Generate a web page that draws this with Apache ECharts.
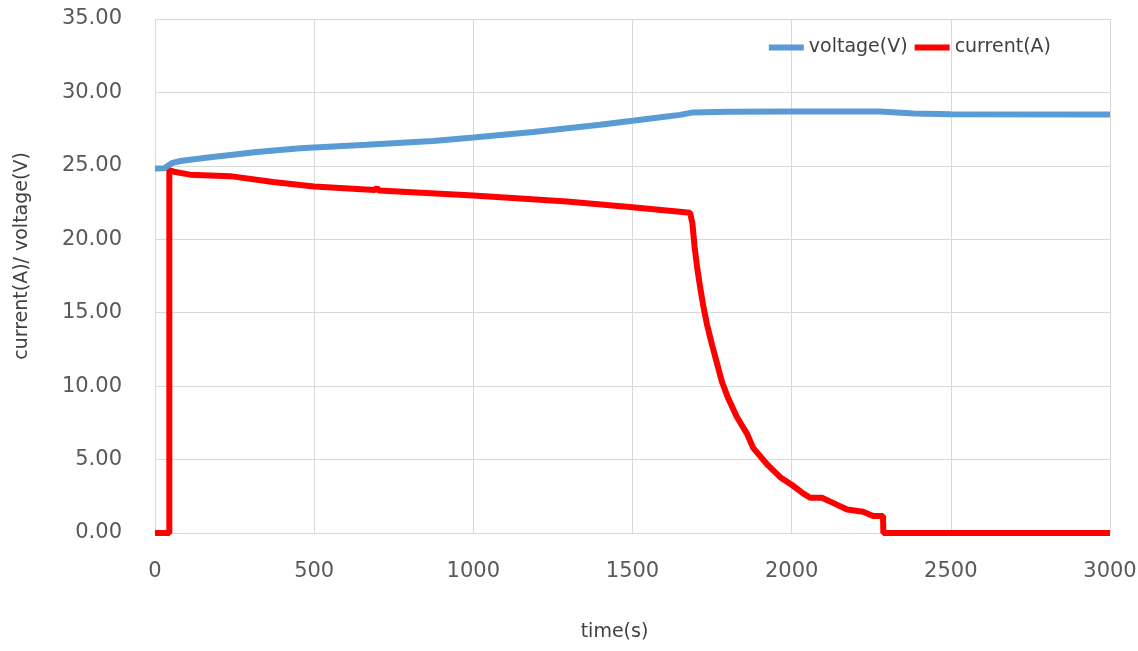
<!DOCTYPE html>
<html>
<head>
<meta charset="utf-8">
<script src="https://cdn.jsdelivr.net/npm/echarts@6/dist/echarts.min.js"></script>
<style>
  html, body { margin: 0; padding: 0; background: #fff; }
  #main { width: 1138px; height: 651px; }
</style>
</head>
<body>
<div id="main"></div>
<script>
// voltage readings (time in s, volts)
var voltageTime = [0, 30, 40, 55, 80, 160, 320, 456, 500, 665, 874, 1000, 1188, 1398, 1500, 1608, 1649, 1690, 1800, 2000, 2278, 2383, 2500, 3000];
var voltageVal  = [24.82, 24.84, 25.0, 25.2, 25.33, 25.55, 25.95, 26.2, 26.25, 26.43, 26.7, 26.93, 27.3, 27.8, 28.07, 28.36, 28.47, 28.64, 28.68, 28.7, 28.7, 28.57, 28.52, 28.5];

// current readings (time in s, amps)
var currentTime = [0, 45, 45, 60, 110, 236, 371, 500, 690, 697, 704, 1000, 1294, 1500, 1681, 1688, 1692, 1695, 1703, 1712, 1722, 1734, 1750, 1766, 1781, 1800, 1828, 1860, 1879, 1926, 1964, 2001, 2036, 2058, 2095, 2130, 2174, 2224, 2256, 2287, 2288, 3000];
var currentVal  = [0, 0, 24.7, 24.6, 24.4, 24.3, 23.9, 23.6, 23.35, 23.5, 23.33, 22.98, 22.57, 22.18, 21.8, 21.1, 20.2, 19.5, 18.1, 16.8, 15.5, 14.2, 12.8, 11.5, 10.3, 9.2, 7.9, 6.75, 5.8, 4.6, 3.8, 3.27, 2.7, 2.4, 2.4, 2.05, 1.6, 1.45, 1.15, 1.15, 0, 0];

var yTicks = [0, 5, 10, 15, 20, 25, 30, 35];
var xTicks = [0, 500, 1000, 1500, 2000, 2500, 3000];

function pairs(t, v) {
  var out = [];
  for (var i = 0; i < t.length; i++) out.push([t[i], v[i]]);
  return out;
}

var myChart = echarts.init(document.getElementById('main'));
var font = 'DejaVu Sans';
var option = {
  animation: false,
  backgroundColor: '#fff',
  grid: { left: 155, right: 28, top: 19, bottom: 118, outerBoundsMode: 'none', containLabel: false },
  legend: {
    right: 82,
    top: 33,
    itemWidth: 35,
    itemHeight: 6,
    itemGap: 7,
    icon: 'rect',
    textStyle: { fontFamily: font, fontSize: 19, color: '#404040' },
    data: ['voltage(V)', 'current(A)']
  },
  xAxis: {
    type: 'value',
    min: xTicks[0],
    max: xTicks[xTicks.length - 1],
    interval: 500,
    name: 'time(s)',
    nameLocation: 'middle',
    nameGap: 90,
    nameTextStyle: { fontFamily: font, fontSize: 19, color: '#404040', padding: [0, 36, 0, 0] },
    axisLine: { show: true, lineStyle: { color: '#d9d9d9', width: 1 } },
    axisTick: { show: false },
    axisLabel: {
      margin: 28,
      fontFamily: font,
      fontSize: 21,
      color: '#595959',
      formatter: function (v) { return String(v); }
    },
    splitLine: { show: true, lineStyle: { color: '#d9d9d9', width: 1 } }
  },
  yAxis: {
    type: 'value',
    min: yTicks[0],
    max: yTicks[yTicks.length - 1],
    interval: 5,
    name: 'current(A)/ voltage(V)',
    nameLocation: 'middle',
    nameRotate: 90,
    nameGap: 123,
    nameTextStyle: { fontFamily: font, fontSize: 19, color: '#404040', padding: [0, 0, 0, 40] },
    axisLine: { show: true, lineStyle: { color: '#d9d9d9', width: 1 } },
    axisTick: { show: false },
    axisLabel: {
      margin: 33,
      fontFamily: font,
      fontSize: 21,
      color: '#595959',
      formatter: function (v) { return v.toFixed(2); }
    },
    splitLine: { show: true, lineStyle: { color: '#d9d9d9', width: 1 } }
  },
  series: [
    {
      name: 'voltage(V)',
      type: 'line',
      showSymbol: false,
      smooth: false,
      lineStyle: { color: '#5b9bd5', width: 6 },
      itemStyle: { color: '#5b9bd5' },
      data: pairs(voltageTime, voltageVal)
    },
    {
      name: 'current(A)',
      type: 'line',
      showSymbol: false,
      smooth: false,
      lineStyle: { color: '#ff0000', width: 6 },
      itemStyle: { color: '#ff0000' },
      data: pairs(currentTime, currentVal)
    }
  ]
};
myChart.setOption(option);
</script>
</body>
</html>
